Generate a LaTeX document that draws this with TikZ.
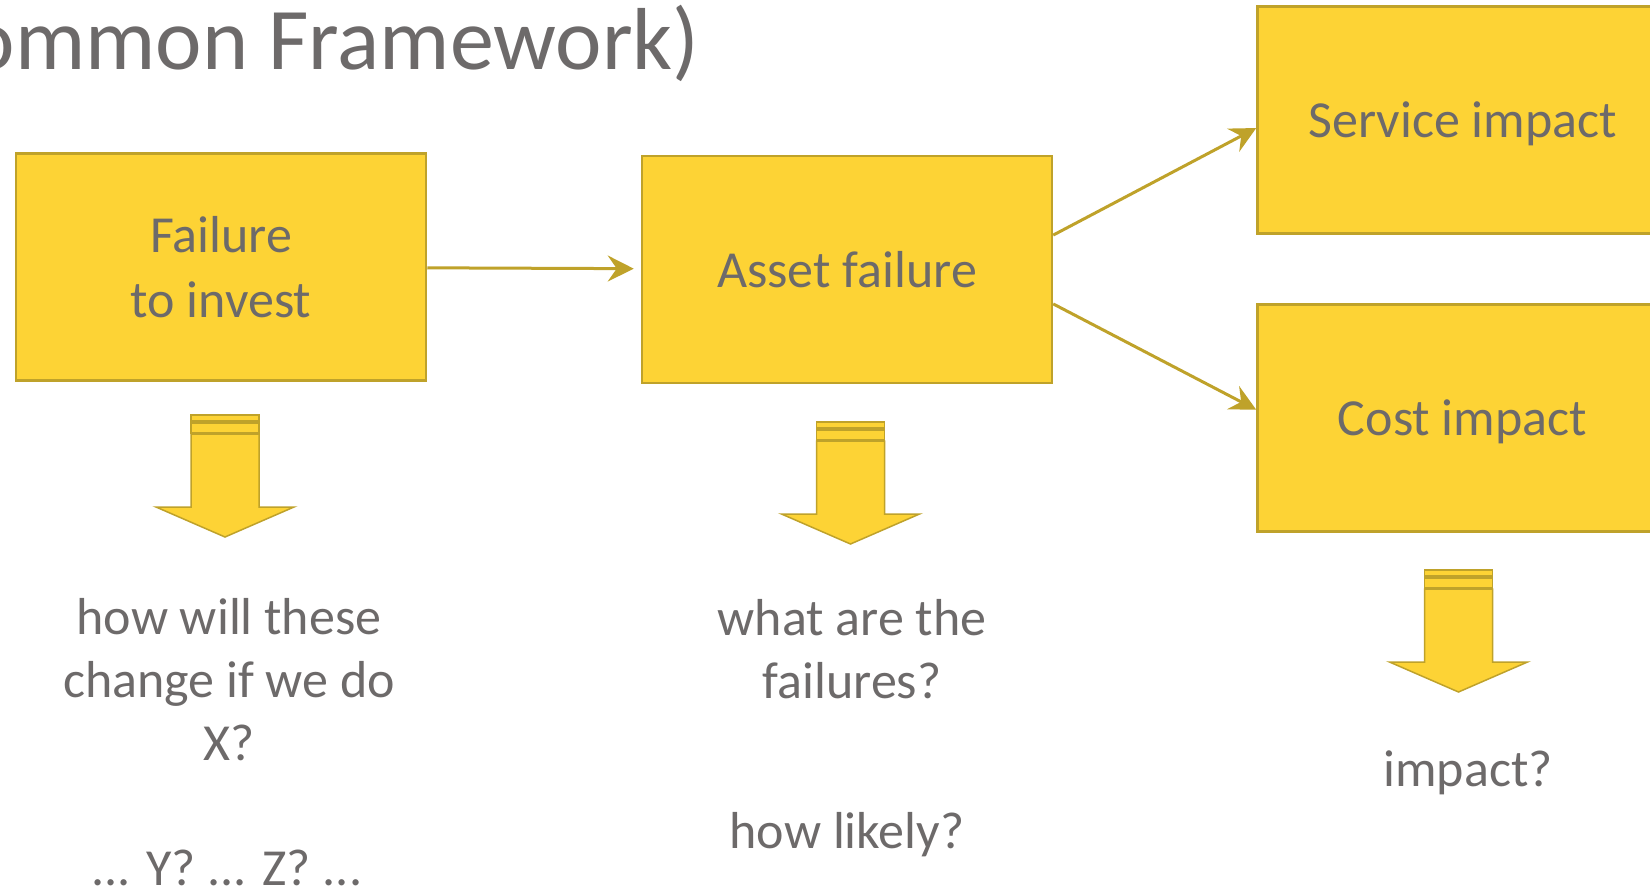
\documentclass[tikz,border=0pt]{standalone}
\usepackage{fontspec}
\setmainfont{Carlito}
\usetikzlibrary{positioning,arrows.meta,calc}

\definecolor{boxyellow}{HTML}{FDD335}
\definecolor{boxgold}{HTML}{BFA22A}
\definecolor{textgrey}{HTML}{6D6A6A}

\tikzset{
  stage/.style={draw=boxgold,fill=boxyellow,line width=2.5pt,
    minimum width=410pt,minimum height=227pt,inner sep=0pt,text depth=0pt,
    align=center,text=textgrey,font=\fontsize{52}{65}\selectfont},
  question/.style={align=center,text=textgrey,text depth=0pt,
    font=\fontsize{52}{63}\selectfont},
  flow/.style={draw=boxgold,line width=3pt,
    -{Stealth[length=26pt,width=26pt,inset=9pt]}},
  arrowpart/.style={draw=boxgold,fill=boxyellow,line width=1.5pt},
  % striped block arrow pointing down, origin at its top centre
  pics/downarrow/.style={code={
    \path[arrowpart] (-34,0) rectangle (34,6);
    \path[arrowpart] (-34,8) rectangle (34,18);
    \path[arrowpart] (-34,19) -- (-34,92) -- (-69,92) -- (0,122)
      -- (69,92) -- (34,92) -- (34,19) -- cycle;
  }}
}

\begin{document}
\begin{tikzpicture}[x=1pt,y=-1pt]
  \useasboundingbox (0,0) rectangle (1650,887);

  \node[anchor=base east,text=textgrey,font=\fontsize{88}{100}\selectfont]
    (title) at (703,69) {Common Framework)};

  % the four stages
  \node[stage] (failure) at (221,267) {Failure\\to invest};
  \node[stage] (asset)   at (847,269.5) {Asset failure};
  \node[stage] (service) at (1462.5,120) {Service impact};
  \node[stage] (cost)    at (1462.5,418) {Cost impact};

  \draw[flow,shorten >=7pt] (failure) -- (asset);
  \draw[flow] ($(asset.north east)!0.35!(asset.south east)$)
    -- ($(service.north west)!0.535!(service.south west)$);
  \draw[flow] ($(asset.north east)!0.65!(asset.south east)$)
    -- ($(cost.north west)!0.464!(cost.south west)$);

  % down arrows and the questions under them
  \pic at (225,415) {downarrow};
  \pic at (850.5,422) {downarrow};
  \pic at (1458.5,570) {downarrow};

  \node[question] (invest q) at (229,679) {how will these\\change if we do\\X?};
  \node[question] (invest more) at (227,868) {... Y? ... Z? ...};
  \node[question] (asset q) at (852,649) {what are the\\failures?};
  \node[question] (asset likely) at (847,830) {how likely?};
  \node[question] (impact q) at (1468,769) {impact?};
\end{tikzpicture}
\end{document}
